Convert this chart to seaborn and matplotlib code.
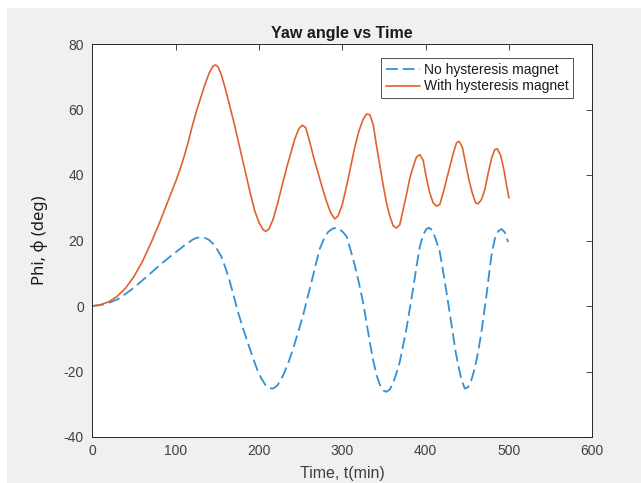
import numpy as np
import pandas as pd
import seaborn as sns
from matplotlib import pyplot as plt
from matplotlib.patches import Rectangle

# Данные
t_no = [0, 10, 20, 30, 40, 50, 60, 70, 80, 90, 100, 110, 120, 125, 130, 135, 140, 145, 150, 155,
        160, 165, 170, 175, 181, 187, 193, 198, 203, 208, 213, 217, 222, 229, 235, 241, 247, 253,
        258, 263, 268, 273, 278, 283, 288, 293, 297, 301, 305, 310, 315, 320, 325, 329, 333, 337,
        341, 345, 349, 353, 357, 361, 365, 369, 373, 377, 381, 385, 389, 393, 397, 401, 404, 408,
        412, 417, 421, 425, 429, 433, 436, 439, 443, 447, 451, 455, 459, 463, 467, 470, 473, 476,
        479, 483, 487, 491, 495, 499]
phi_no = [0, 0.3, 1, 2, 3.7, 5.6, 7.8, 10, 12.3, 14.4, 16.4, 18.4, 20.2, 20.8, 21, 20.8, 20.2, 19,
          17.2, 15, 11.5, 7.5, 2.8, -2, -6.9, -11.5, -16, -19.5, -22.2, -24.2, -25.1, -25.2, -24.3,
          -21.2, -17.5, -13, -8, -2.8, 2.3, 7.3, 12.5, 17.5, 20.5, 22.6, 23.6, 23.9, 23.4, 22.5,
          21.3, 17, 12.4, 7, 1, -5, -11, -16.5, -21, -24, -25.8, -26.2, -25.5, -23.5, -20.5, -17,
          -12, -6.9, -0.8, 5.3, 12, 18, 21.8, 23.5, 23.9, 23.2, 20.5, 16.5, 10.5, 4.3, -2.3, -8.9,
          -14, -18, -22.5, -25.2, -24.8, -22.5, -19, -14, -7.9, -2.3, 3.3, 9.5, 15.5, 20.5, 22.8,
          23.5, 22.5, 19.5]

t_with = [0, 10, 20, 30, 40, 50, 60, 70, 80, 90, 100, 105, 110, 115, 120, 125, 130, 135, 140, 145,
          148, 151, 155, 160, 165, 170, 175, 180, 185, 190, 195, 200, 205, 208, 212, 217, 222, 228,
          233, 238, 243, 248, 252, 256, 260, 265, 270, 275, 281, 286, 291, 295, 300, 305, 310, 315,
          320, 325, 329, 333, 337, 341, 345, 349, 353, 357, 361, 365, 369, 373, 377, 381, 385, 389,
          393, 397, 401, 405, 409, 413, 417, 421, 425, 429, 433, 437, 440, 444, 448, 452, 456, 460,
          463, 467, 471, 475, 479, 483, 486, 490, 494, 497, 500]
phi_with = [0, 0.4, 1.3, 3, 5.5, 9, 13.5, 19, 25, 31.5, 38, 41.5, 45.5, 50, 55, 59.5, 63.5, 67.5,
            71, 73.3, 73.6, 73, 70.5, 66, 61, 56, 50.5, 45, 39.5, 34, 29, 25.5, 23.3, 22.8, 23.5,
            26.5, 31, 37, 42, 46.5, 51, 54.2, 55.2, 54.5, 51, 46, 41.5, 37, 32, 28.5, 26.6, 27.5,
            31, 36.5, 42.5, 48.5, 53.5, 57, 58.6, 58.4, 55.5, 49, 43, 37, 31.5, 27.5, 24.5, 23.8,
            24.8, 29.5, 34, 39, 42.5, 45.5, 46.2, 44.5, 39, 34.5, 31.5, 30.5, 31, 34.5, 38.5, 42.5,
            46.5, 49.8, 50.3, 48.5, 43.5, 38.5, 34.5, 31.5, 31.2, 32.5, 35.5, 40.5, 45, 47.8, 48,
            46, 41.5, 37, 33]

x_ticks = [0, 100, 200, 300, 400, 500, 600]
y_ticks = [-40, -20, 0, 20, 40, 60, 80]

df_no = pd.DataFrame({'t': t_no, 'phi': phi_no})
df_with = pd.DataFrame({'t': t_with, 'phi': phi_with})

sns.set_style("white")
plt.rcParams['font.family'] = ['Liberation Sans', 'DejaVu Sans']
plt.rcParams['axes.unicode_minus'] = False

fig = plt.figure(figsize=(6.41, 4.83), dpi=100)
fig.patch.set_facecolor('white')
# серый фон окна MATLAB
fig.add_artist(Rectangle((7 / 641, 0), 1, 1 - 8 / 483, transform=fig.transFigure,
                         facecolor='#f0f0f0', edgecolor='none', zorder=-10))
ax = fig.add_axes([92.3 / 641, 1 - 437 / 483, 500 / 641, 393 / 483])
ax.set_facecolor('white')

sns.lineplot(data=df_no, x='t', y='phi', ax=ax, color='#3490d2', linewidth=1.3,
             sort=False, estimator=None, label='No hysteresis magnet')
ax.lines[-1].set_dashes((6.5, 2.8))
sns.lineplot(data=df_with, x='t', y='phi', ax=ax, color='#e0622f', linewidth=1.2,
             sort=False, estimator=None, label='With hysteresis magnet')

ax.set_xlim(0, 600)
ax.set_ylim(-40, 80)
ax.set_xticks(x_ticks)
ax.set_yticks(y_ticks)
ax.tick_params(direction='in', top=True, right=True, length=4, width=0.6,
               color='#262626', labelcolor='#404040', labelsize=10)
ax.tick_params(axis='x', pad=5)
ax.tick_params(axis='y', pad=6)
for s in ax.spines.values():
    s.set_color('#262626')
    s.set_linewidth(0.7)

ax.set_title('Yaw angle vs Time', fontsize=11.5, fontweight='bold', color='#1a1a1a', pad=4)
ax.set_xlabel('Time, t(min)', fontsize=11.5, color='#404040')
ax.xaxis.set_label_coords(0.5, -0.075)
ax.set_ylabel('Phi, ϕ (deg)', fontsize=12, color='#1a1a1a', family=['Noto Sans', 'DejaVu Sans'])
ax.yaxis.set_label_coords(-0.089, 0.5)

leg = ax.legend(loc='upper right', bbox_to_anchor=(0.962, 0.965), fontsize=10, frameon=True,
                fancybox=False, edgecolor='#262626', handlelength=2.4, handletextpad=0.3,
                borderpad=0.35, labelspacing=0.2, borderaxespad=0)
leg.get_frame().set_linewidth(0.7)
for txt in leg.get_texts():
    txt.set_color('#1a1a1a')

fig.savefig('out.png', dpi=100, facecolor=fig.get_facecolor())
